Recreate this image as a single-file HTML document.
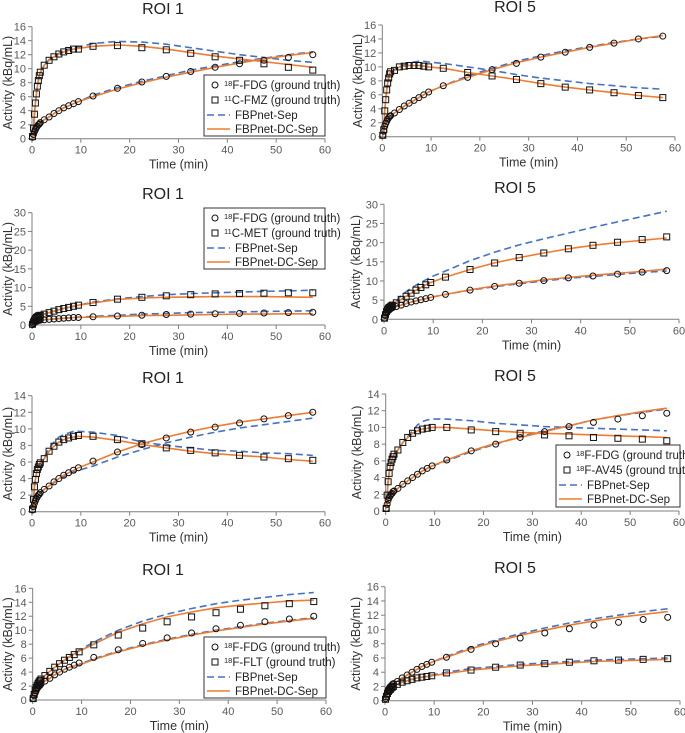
<!DOCTYPE html>
<html><head><meta charset="utf-8"><style>
html,body{margin:0;padding:0;background:#fff;}
svg{display:block;font-family:"Liberation Sans",Arial,sans-serif;}
</style></head><body>
<svg id="fig" width="685" height="733" viewBox="0 0 685 733" xmlns="http://www.w3.org/2000/svg"></svg>
<script>
const times=[0.1,0.3,0.5,0.7,0.9,1.1,1.3,1.5,1.7,2.5,3.5,4.5,5.5,6.5,7.5,8.5,9.5,12.5,17.5,22.5,27.5,32.5,37.5,42.5,47.5,52.5,57.5];
const xTicks=[0,10,20,30,40,50,60];
// Panel 1 (ROI 1, FDG + FMZ)
const p1A=[0.2,0.6,1.0,1.3,1.6,1.8,2.0,2.1,2.3,2.7,3.1,3.6,4.0,4.4,4.7,5.0,5.3,6.1,7.2,8.1,8.9,9.6,10.2,10.7,11.2,11.6,12.0];
const p1SepA=[0.2,0.6,1.0,1.3,1.6,1.8,2.0,2.1,2.3,2.7,3.1,3.6,4.0,4.4,4.7,5.0,5.3,6.2,7.3,8.2,9.0,9.8,10.4,11.0,11.5,12.0,12.4];
const p1DcA=[0.2,0.6,1.0,1.3,1.6,1.8,2.0,2.1,2.3,2.7,3.1,3.6,4.0,4.4,4.7,5.0,5.3,6.0,7.1,8.0,8.8,9.5,10.2,10.8,11.4,11.9,12.3];
const p1B=[0.3,1.5,3.5,5.1,6.4,7.5,8.3,9.0,9.5,10.5,11.2,11.7,12.1,12.4,12.6,12.8,12.8,13.2,13.3,13.0,12.7,12.2,11.7,11.2,10.7,10.2,9.8];
const p1SepB=[0.3,1.5,3.5,5.1,6.4,7.5,8.3,9.0,9.5,10.5,11.3,11.8,12.2,12.5,12.8,13.0,13.1,13.6,13.9,13.8,13.5,13.0,12.5,12.0,11.6,11.2,10.9];
const p1DcB=[0.3,1.5,3.5,5.1,6.4,7.5,8.3,9.0,9.5,10.5,11.2,11.7,12.1,12.4,12.6,12.8,12.9,13.2,13.4,13.2,12.8,12.3,11.8,11.4,11.0,10.6,10.2];
// Panel 2 (ROI 5, FDG + FMZ)
const p2A=[0.2,0.8,1.5,1.9,2.2,2.5,2.7,2.9,3.0,3.4,3.9,4.4,4.8,5.2,5.6,6.0,6.4,7.3,8.5,9.6,10.5,11.4,12.1,12.8,13.4,14.0,14.4];
const p2SepA=[0.2,0.8,1.5,1.9,2.2,2.5,2.7,2.9,3.0,3.4,3.9,4.4,4.8,5.2,5.6,6.0,6.4,7.3,8.7,9.8,10.8,11.6,12.3,12.9,13.5,14.0,14.4];
const p2DcA=[0.2,0.8,1.5,1.9,2.2,2.5,2.7,2.9,3.0,3.4,3.9,4.4,4.8,5.2,5.6,6.0,6.4,7.3,8.5,9.6,10.6,11.4,12.1,12.8,13.4,14.0,14.5];
const p2B=[0.2,1.0,3.7,5.3,6.7,7.7,8.4,9.0,9.3,9.5,10.0,10.1,10.2,10.2,10.2,10.1,10.0,9.8,9.2,8.7,8.2,7.6,7.1,6.7,6.3,5.9,5.6];
const p2SepB=[0.2,1.0,3.7,5.3,6.7,7.7,8.4,9.0,9.3,9.6,10.1,10.3,10.5,10.7,10.8,10.8,10.7,10.5,10.0,9.5,8.9,8.4,8.0,7.6,7.3,7.0,6.8];
const p2DcB=[0.2,1.0,3.7,5.3,6.7,7.7,8.4,9.0,9.3,9.5,10.0,10.1,10.2,10.2,10.2,10.1,10.0,9.8,9.2,8.7,8.2,7.6,7.1,6.7,6.3,5.9,5.6];
// Panel 3 (ROI 1, FDG + MET)
const p3A=[0.1,0.4,0.7,0.9,1.0,1.1,1.2,1.3,1.3,1.4,1.5,1.6,1.7,1.8,1.9,2.0,2.0,2.2,2.4,2.6,2.8,2.9,3.0,3.1,3.2,3.3,3.4];
const p3SepA=[0.1,0.4,0.7,0.9,1.0,1.1,1.2,1.3,1.3,1.4,1.5,1.6,1.7,1.8,1.9,2.0,2.1,2.3,2.6,2.9,3.1,3.3,3.4,3.5,3.6,3.7,3.8];
const p3DcA=[0.1,0.4,0.7,0.9,1.0,1.1,1.2,1.3,1.3,1.4,1.5,1.6,1.7,1.8,1.9,2.0,2.0,2.1,2.3,2.5,2.6,2.7,2.8,2.9,2.9,3.0,3.0];
const p3B=[0.2,0.8,1.3,1.7,2.0,2.2,2.4,2.5,2.6,2.9,3.3,3.7,4.1,4.4,4.7,5.0,5.3,6.0,6.9,7.4,7.8,8.1,8.3,8.4,8.5,8.6,8.6];
const p3SepB=[0.2,0.8,1.3,1.7,2.0,2.2,2.4,2.5,2.6,2.9,3.3,3.7,4.1,4.4,4.7,5.0,5.3,6.1,7.0,7.6,8.1,8.4,8.6,8.8,9.0,9.1,9.3];
const p3DcB=[0.2,0.8,1.3,1.7,2.0,2.2,2.4,2.5,2.6,2.9,3.3,3.7,4.1,4.4,4.7,5.0,5.3,5.9,6.8,7.2,7.4,7.5,7.6,7.6,7.6,7.5,7.4];
// Panel 4 (ROI 5, FDG + MET)
const p4A=[0.3,1.0,1.6,2.0,2.3,2.5,2.7,2.9,3.0,3.3,3.7,4.1,4.5,4.8,5.1,5.4,5.7,6.5,7.6,8.6,9.4,10.1,10.8,11.3,11.8,12.3,12.7];
const p4SepA=[0.3,1.0,1.6,2.0,2.3,2.5,2.7,2.9,3.0,3.3,3.7,4.1,4.5,4.8,5.1,5.4,5.7,6.5,7.6,8.5,9.3,10.0,10.7,11.2,11.7,12.2,12.6];
const p4DcA=[0.3,1.0,1.6,2.0,2.3,2.5,2.7,2.9,3.0,3.3,3.7,4.1,4.5,4.8,5.1,5.4,5.7,6.5,7.7,8.7,9.5,10.3,10.9,11.5,12.0,12.5,13.1];
const p4B=[0.3,1.2,2.0,2.5,2.9,3.1,3.3,3.5,3.7,4.3,5.2,6.0,6.8,7.6,8.3,9.0,9.6,11.0,13.0,14.7,16.1,17.3,18.4,19.3,20.1,20.8,21.5];
const p4SepB=[0.3,1.3,2.2,2.8,3.2,3.5,3.8,4.0,4.2,4.7,6.2,7.2,8.1,8.9,9.6,10.3,11.0,12.6,15.3,17.5,19.4,21.0,22.5,24.0,25.4,26.8,28.2];
const p4DcB=[0.3,1.2,2.0,2.5,2.9,3.1,3.3,3.5,3.7,4.3,5.2,6.0,6.8,7.6,8.3,9.0,9.6,11.0,13.0,14.7,16.1,17.3,18.4,19.3,20.0,20.6,21.2];
// Panel 5 (ROI 1, FDG + AV45)
const p5A=[0.2,0.6,1.0,1.3,1.6,1.8,2.0,2.1,2.3,2.7,3.1,3.6,4.0,4.4,4.7,5.0,5.3,6.1,7.2,8.1,8.9,9.6,10.2,10.7,11.2,11.6,12.0];
const p5SepA=[0.2,0.6,1.0,1.3,1.6,1.8,2.0,2.1,2.3,2.7,3.1,3.5,3.9,4.2,4.5,4.8,5.0,5.5,6.6,7.5,8.3,9.0,9.6,10.1,10.5,10.9,11.3];
const p5DcA=[0.2,0.6,1.0,1.3,1.6,1.8,2.0,2.1,2.3,2.7,3.1,3.6,4.0,4.4,4.7,5.0,5.3,6.0,7.2,8.2,9.0,9.7,10.3,10.8,11.2,11.6,12.0];
const p5B=[0.3,1.5,3.0,3.9,4.6,5.1,5.4,5.7,5.9,6.4,7.3,7.9,8.4,8.7,8.9,9.1,9.2,9.1,8.7,8.2,7.7,7.4,7.1,6.8,6.6,6.4,6.2];
const p5SepB=[0.3,1.5,3.0,3.9,4.6,5.1,5.4,5.7,5.9,6.6,7.6,8.4,9.0,9.3,9.5,9.7,9.7,9.6,9.2,8.4,8.0,7.7,7.4,7.3,7.1,7.0,6.8];
const p5DcB=[0.3,1.5,3.0,3.9,4.6,5.1,5.4,5.7,5.9,6.4,7.3,7.9,8.4,8.7,8.9,9.0,9.1,9.0,8.6,8.1,7.7,7.3,7.0,6.8,6.6,6.3,6.1];
// Panel 6 (ROI 5, FDG + AV45)
const p6A=[0.3,0.8,1.3,1.6,1.8,2.0,2.1,2.3,2.4,2.7,3.2,3.6,4.0,4.4,4.8,5.1,5.4,6.1,7.2,8.0,8.8,9.5,10.1,10.6,11.0,11.4,11.7];
const p6SepA=[0.3,0.8,1.3,1.6,1.8,2.0,2.1,2.3,2.4,2.7,3.2,3.6,4.0,4.4,4.8,5.1,5.4,6.0,7.1,8.0,8.9,9.6,10.2,10.9,11.4,11.8,12.2];
const p6DcA=[0.3,0.8,1.3,1.6,1.8,2.0,2.1,2.3,2.4,2.7,3.2,3.6,4.0,4.4,4.8,5.1,5.4,6.1,7.2,8.1,8.8,9.5,10.2,10.9,11.4,11.9,12.3];
const p6B=[0.3,1.9,3.5,4.5,5.3,5.8,6.2,6.5,6.8,7.3,8.2,8.8,9.3,9.6,9.8,9.9,10.0,10.0,9.7,9.5,9.3,9.1,9.0,8.8,8.7,8.6,8.4];
const p6SepB=[0.3,1.9,3.5,4.5,5.3,5.8,6.2,6.5,6.8,7.3,8.2,8.9,9.6,10.3,10.7,10.9,11.0,11.0,10.8,10.5,10.3,10.1,10.0,9.9,9.8,9.7,9.6];
const p6DcB=[0.3,1.9,3.5,4.5,5.3,5.8,6.2,6.5,6.8,7.3,8.2,8.8,9.3,9.6,9.8,9.9,10.0,10.0,9.8,9.6,9.4,9.3,9.2,9.1,9.0,8.9,8.8];
// Panel 7 (ROI 1, FDG + FLT)
const p7A=[0.2,0.6,1.0,1.3,1.6,1.8,2.0,2.1,2.3,2.7,3.1,3.6,4.0,4.4,4.7,5.0,5.3,6.1,7.2,8.1,8.9,9.6,10.2,10.7,11.2,11.6,12.0];
const p7SepA=[0.2,0.6,1.0,1.3,1.6,1.8,2.0,2.1,2.3,2.7,3.1,3.6,4.0,4.4,4.7,4.9,5.1,5.9,7.0,7.9,8.7,9.4,10.0,10.5,11.0,11.4,11.8];
const p7DcA=[0.2,0.6,1.0,1.3,1.6,1.8,2.0,2.1,2.3,2.7,3.1,3.6,4.0,4.4,4.7,4.9,5.0,5.8,6.9,7.8,8.6,9.3,9.9,10.4,10.9,11.3,11.7];
const p7B=[0.2,0.8,1.4,1.8,2.1,2.4,2.6,2.8,3.0,3.5,4.1,4.7,5.2,5.7,6.1,6.5,6.9,7.9,9.3,10.3,11.2,11.9,12.5,13.0,13.5,13.8,14.1];
const p7SepB=[0.2,0.8,1.4,1.8,2.1,2.4,2.6,2.8,3.0,3.5,4.1,4.7,5.2,5.7,6.2,6.7,7.1,8.3,10.0,11.3,12.3,13.1,13.8,14.3,14.7,15.1,15.4];
const p7DcB=[0.2,0.8,1.4,1.8,2.1,2.4,2.6,2.8,3.0,3.5,4.1,4.7,5.2,5.7,6.2,6.6,7.0,8.0,9.7,10.9,11.9,12.6,13.2,13.6,13.9,14.2,14.3];
// Panel 8 (ROI 5, FDG + FLT)
const p8A=[0.3,0.8,1.3,1.6,1.8,2.0,2.1,2.3,2.4,2.7,3.2,3.6,4.0,4.4,4.8,5.1,5.4,6.1,7.2,8.0,8.8,9.5,10.1,10.6,11.0,11.4,11.7];
const p8SepA=[0.3,0.8,1.3,1.6,1.8,2.0,2.1,2.3,2.4,2.7,3.2,3.6,4.0,4.4,4.8,5.1,5.4,6.2,7.5,8.5,9.4,10.2,10.9,11.5,12.0,12.5,12.9];
const p8DcA=[0.3,0.8,1.3,1.6,1.8,2.0,2.1,2.3,2.4,2.7,3.2,3.6,4.0,4.4,4.8,5.1,5.4,6.1,7.3,8.3,9.2,9.9,10.6,11.2,11.7,12.1,12.5];
const p8B=[0.2,0.6,1.0,1.3,1.5,1.6,1.8,1.9,2.0,2.3,2.6,2.8,3.0,3.2,3.3,3.4,3.5,3.9,4.3,4.7,5.0,5.2,5.4,5.6,5.7,5.8,5.9];
const p8SepB=[0.2,0.6,1.0,1.3,1.5,1.6,1.8,1.9,2.0,2.3,2.6,2.8,3.0,3.2,3.3,3.4,3.6,4.0,4.5,4.8,5.1,5.3,5.5,5.7,5.8,5.9,6.0];
const p8DcB=[0.2,0.6,1.0,1.3,1.5,1.6,1.8,1.9,2.0,2.3,2.6,2.8,3.0,3.2,3.3,3.4,3.5,3.8,4.3,4.6,4.9,5.1,5.3,5.5,5.6,5.7,5.8];

const NS="http://www.w3.org/2000/svg";
const svg=document.getElementById('fig');
function mk(tag,attrs,parent){const e=document.createElementNS(NS,tag);for(const k in attrs)e.setAttribute(k,attrs[k]);(parent||svg).appendChild(e);return e;}

const panels=[
 {id:'p1',title:'ROI 1',x0:32,x1:325,y0:138.7,y1:26.7,ymax:16,ystep:2,tY:8,tx:163,yl:8,A:p1A,SA:p1SepA,DA:p1DcA,B:p1B,SB:p1SepB,DB:p1DcB,leg:{x:204,y:75,w:121,h:61,bs:'11',bn:'C-FMZ'}},
 {id:'p2',title:'ROI 5',x0:382.3,x1:675,y0:136.7,y1:25,ymax:16,ystep:2,tY:6,tx:515,yl:358,A:p2A,SA:p2SepA,DA:p2DcA,B:p2B,SB:p2SepB,DB:p2DcB},
 {id:'p3',title:'ROI 1',x0:32,x1:325,y0:325,y1:212.7,ymax:30,ystep:5,tY:193,tx:163,yl:8,A:p3A,SA:p3SepA,DA:p3DcA,B:p3B,SB:p3SepB,DB:p3DcB,leg:{x:204,y:208,w:121,h:61,bs:'11',bn:'C-MET'}},
 {id:'p4',title:'ROI 5',x0:384,x1:679,y0:319.3,y1:204.3,ymax:30,ystep:5,tY:187,tx:515,yl:356,A:p4A,SA:p4SepA,DA:p4DcA,B:p4B,SB:p4SepB,DB:p4DcB},
 {id:'p5',title:'ROI 1',x0:32,x1:325,y0:511.7,y1:395.7,ymax:14,ystep:2,tY:377,tx:163,yl:8,A:p5A,SA:p5SepA,DA:p5DcA,B:p5B,SB:p5SepB,DB:p5DcB},
 {id:'p6',title:'ROI 5',x0:385.7,x1:679,y0:511,y1:394,ymax:14,ystep:2,tY:375,tx:515,yl:357,A:p6A,SA:p6SepA,DA:p6DcA,B:p6B,SB:p6SepB,DB:p6DcB,leg:{x:556,y:445,w:124,h:62,bs:'18',bn:'F-AV45'}},
 {id:'p7',title:'ROI 1',x0:32.7,x1:326,y0:700,y1:588.3,ymax:16,ystep:2,tY:569,tx:163,yl:8,A:p7A,SA:p7SepA,DA:p7DcA,B:p7B,SB:p7SepB,DB:p7DcB,leg:{x:204,y:637,w:122,h:61,bs:'18',bn:'F-FLT'}},
 {id:'p8',title:'ROI 5',x0:385,x1:680,y0:700.7,y1:586.7,ymax:16,ystep:2,tY:567,tx:515,yl:356,A:p8A,SA:p8SepA,DA:p8DcA,B:p8B,SB:p8SepB,DB:p8DcB}
];

const BLUE='#4472C4', ORANGE='#ED7D31', AX='#7f7f7f', TXT='#595959';

panels.forEach(p=>{
  const g=mk('g',{});
  
  
  const sx=v=>p.x0+(v/60)*(p.x1-p.x0);
  const sy=v=>p.y0-(v/p.ymax)*(p.y0-p.y1);
  const t=mk('text',{x:p.tx,y:p.tY+6,'text-anchor':'middle','font-size':16,fill:'#222'},g);
  t.textContent=p.title;
  
  
  const ya=mk('line',{x1:p.x0,y1:p.y0,x2:p.x0,y2:p.y1,stroke:AX,'stroke-width':1},g);
  
  
  const xa=mk('line',{x1:p.x0,y1:p.y0,x2:p.x1,y2:p.y0,stroke:AX,'stroke-width':1},g);
  
  
  for(let v=0;v<=p.ymax+1e-9;v+=p.ystep){
    mk('line',{x1:p.x0-4,y1:sy(v),x2:p.x0,y2:sy(v),stroke:AX},g);
    const tl=mk('text',{x:p.x0-6,y:sy(v)+4,'text-anchor':'end','font-size':11,fill:TXT},g);
    tl.textContent=v;
    
    
  }
  xTicks.forEach(v=>{
    mk('line',{x1:sx(v),y1:p.y0,x2:sx(v),y2:p.y0+4,stroke:AX},g);
    const tl=mk('text',{x:sx(v),y:p.y0+15,'text-anchor':'middle','font-size':11,fill:TXT},g);
    tl.textContent=v;
    
    
  });
  const xt=mk('text',{x:(p.x0+p.x1)/2,y:p.y0+30,'text-anchor':'middle','font-size':12.5,fill:'#333'},g);
  xt.textContent='Time (min)';
  
  
  const yc=(p.y0+p.y1)/2;
  const yt=mk('text',{x:p.yl,y:yc,'text-anchor':'middle','font-size':12.5,fill:'#333',transform:`rotate(-90 ${p.yl} ${yc})`,dy:4},g);
  yt.textContent='Activity (kBq/mL)';
  
  
  const path=arr=>arr.map((v,i)=>(i?'L':'M')+sx(times[i]).toFixed(1)+' '+sy(v).toFixed(1)).join(' ');
  [['SA','sep-fdg',BLUE,true],['SB','sep-tracer2',BLUE,true],['DA','dc-fdg',ORANGE,false],['DB','dc-tracer2',ORANGE,false]].forEach(([k,n,c,d])=>{
    const l=mk('path',{d:path(p[k]),fill:'none',stroke:c,'stroke-width':1.6,'stroke-dasharray':d?'7 4':'none'},g);
    
    
  });
  p.A.forEach((v,i)=>{
    const c=mk('circle',{cx:sx(times[i]),cy:sy(v),r:3,fill:'none',stroke:'#111','stroke-width':1},g);
    
    
  });
  p.B.forEach((v,i)=>{
    const s=mk('rect',{x:sx(times[i])-3,y:sy(v)-3,width:6,height:6,fill:'none',stroke:'#111','stroke-width':1},g);
    
    
  });
  if(p.leg){
    const L=p.leg;
    const lg=mk('g',{},g);
    
    
    mk('rect',{x:L.x,y:L.y,width:L.w,height:L.h,fill:'#fff',stroke:'#333','stroke-width':1},lg);
    const rows=[L.y+10,L.y+25,L.y+40,L.y+54];
    mk('circle',{cx:L.x+11,cy:rows[0],r:3,fill:'none',stroke:'#111'},lg);
    mk('rect',{x:L.x+8,y:rows[1]-3,width:6,height:6,fill:'none',stroke:'#111'},lg);
    mk('line',{x1:L.x+3,y1:rows[2],x2:L.x+26,y2:rows[2],stroke:BLUE,'stroke-width':1.6,'stroke-dasharray':'7 4'},lg);
    mk('line',{x1:L.x+3,y1:rows[3],x2:L.x+26,y2:rows[3],stroke:ORANGE,'stroke-width':1.6},lg);
    const lab=(y,sup,main,name)=>{
      const t=mk('text',{x:L.x+(sup?20:31),y:y+4,'font-size':11.5,fill:'#222'},lg);
      if(sup){const s=mk('tspan',{'font-size':7.5,dy:-3},t);s.textContent=sup;const m=mk('tspan',{dy:3},t);m.textContent=main;}
      else t.textContent=main;
      
      
    };
    lab(rows[0],'18','F-FDG (ground truth)','legend-entry-fdg');
    lab(rows[1],L.bs,L.bn+' (ground truth)','legend-entry-tracer2');
    lab(rows[2],null,'FBPnet-Sep','legend-entry-fbpnet-sep');
    lab(rows[3],null,'FBPnet-DC-Sep','legend-entry-fbpnet-dc-sep');
  }
});
</script>
</body></html>
